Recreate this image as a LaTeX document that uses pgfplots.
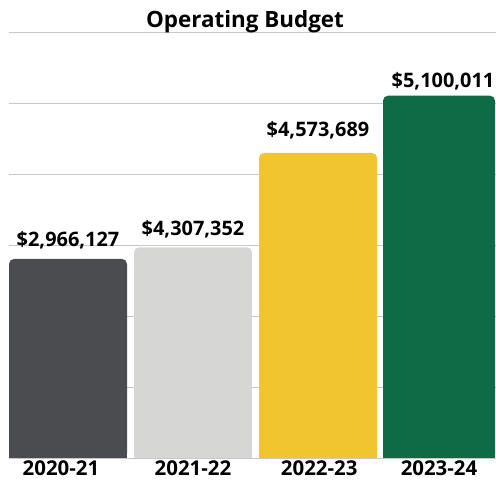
\documentclass[border=0pt]{standalone}
\usepackage{pgfplots}
\pgfplotsset{compat=1.18}
\usepackage{fontspec}
\setmainfont{Open Sans}
\definecolor{c1}{HTML}{4B4C50}
\definecolor{c2}{HTML}{D6D6D5}
\definecolor{c3}{HTML}{F0C530}
\definecolor{c4}{HTML}{0E6B45}
\definecolor{gridc}{HTML}{C8C8C8}
\newcommand{\lab}{\fontsize{20}{22}\selectfont\bfseries}
\newcommand{\tlab}{\fontsize{20.5}{22}\selectfont\bfseries}
\begin{document}
\begin{tikzpicture}[x=1bp,y=1bp]
\useasboundingbox (0,0) rectangle (496,483);
\begin{axis}[
  at={(9bp,25bp)}, anchor=south west,
  scale only axis, width=487bp, height=426bp,
  xmin=-0.472, xmax=3.424, ymin=0, ymax=6,
  axis line style={draw=none},
  ytick={0,1,2,3,4,5,6}, yticklabels={}, ymajorgrids,
  grid style={draw=gridc, line width=0.9bp},
  xtick={-0.056,1,2.01,2.968},
  xticklabels={2020-21,2021-22,2022-23,2023-24},
  major tick length=0pt,
  xticklabel style={font=\tlab, anchor=base, yshift=-18bp},
  point meta=explicit symbolic,
  every node near coord/.append style={font=\lab, anchor=base, text=black},
]
% bars (heights in millions as drawn)
\addplot[ybar, bar width=118bp, bar shift=0pt, fill=c1, draw=none, rounded corners=5bp,
  nodes near coords, every node near coord/.append style={yshift=12.6bp}]
  coordinates {(0,2.803) [\$2,966,127]};
\addplot[ybar, bar width=118bp, bar shift=0pt, fill=c1, draw=none] coordinates {(0,0.3) []};
\addplot[ybar, bar width=118bp, bar shift=0pt, fill=c2, draw=none, rounded corners=5bp,
  nodes near coords, every node near coord/.append style={yshift=11.7bp}]
  coordinates {(1,2.966) [\$4,307,352]};
\addplot[ybar, bar width=118bp, bar shift=0pt, fill=c2, draw=none] coordinates {(1,0.3) []};
\addplot[ybar, bar width=118bp, bar shift=0pt, fill=c3, draw=none, rounded corners=5bp,
  nodes near coords, every node near coord/.append style={yshift=16.6bp}]
  coordinates {(2,4.296) [\$4,573,689]};
\addplot[ybar, bar width=118bp, bar shift=0pt, fill=c3, draw=none] coordinates {(2,0.3) []};
\addplot[ybar, bar width=112bp, bar shift=-4bp, fill=c4, draw=none, rounded corners=5bp,
  nodes near coords, every node near coord/.append style={yshift=7.7bp}]
  coordinates {(3,5.103) [\$5,100,011]};
\addplot[ybar, bar width=112bp, bar shift=-4bp, fill=c4, draw=none] coordinates {(3,0.3) []};
\end{axis}
\node[font=\fontsize{22.5}{25}\selectfont\bfseries, anchor=base] at (245,455) {Operating Budget};
\end{tikzpicture}
\end{document}
